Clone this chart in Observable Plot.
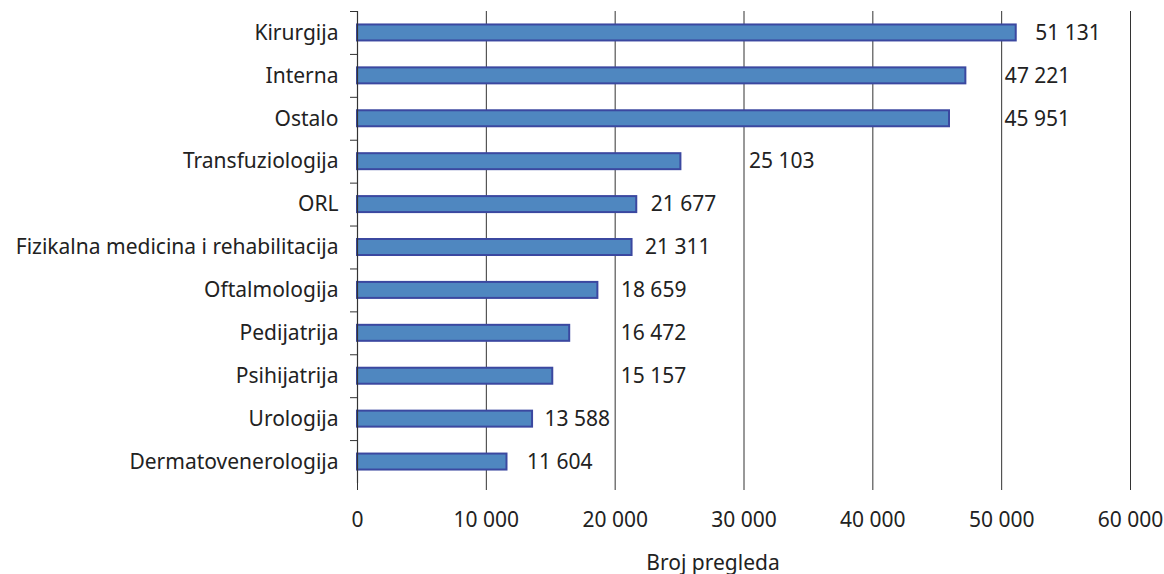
<!DOCTYPE html>
<html>
<head>
<meta charset="utf-8">
<script src="https://cdn.jsdelivr.net/npm/d3@7"></script>
<script src="https://cdn.jsdelivr.net/npm/@observablehq/plot@0.6"></script>
<style>
  html, body { margin: 0; padding: 0; background: #fff; }
  #chart svg { display: block; }
</style>
</head>
<body>
<div id="chart"></div>
<script>
const categories = ["Kirurgija", "Interna", "Ostalo", "Transfuziologija", "ORL",
  "Fizikalna medicina i rehabilitacija", "Oftalmologija", "Pedijatrija",
  "Psihijatrija", "Urologija", "Dermatovenerologija"];
const values = [51131, 47221, 45951, 25103, 21677, 21311, 18659, 16472, 15157, 13588, 11604];
const xTicks = [0, 10000, 20000, 30000, 40000, 50000, 60000];
const xTitle = "Broj pregleda";
// label offsets (px) from bar end, as placed in the original
const labelDx = [19, 39, 55, 68, 14, 13, 23, 51, 68, 12, 20];

const data = categories.map((c, i) => ({cat: c, value: values[i], dx: labelDx[i]}));
const fmt = d => d3.format(",")(d).replace(/,/g, "\u00a0");

const W = 1164, H = 574;
const mL = 357, mR = 34, mT = 11, mB = 91;
const step = (H - mT - mB) / categories.length;
const barH = 16;
const inset = (step - barH) / 2;
const FS = 21;

const chart = Plot.plot({
  width: W, height: H,
  marginLeft: mL, marginRight: mR, marginTop: mT, marginBottom: mB,
  style: {fontFamily: "'Noto Sans', Lato, sans-serif", fontSize: FS + "px", color: "#222", background: "#fff"},
  x: {domain: [0, 60000], ticks: xTicks, label: null},
  y: {domain: categories, padding: 0, round: false, label: null},
  marks: [
    Plot.ruleX(xTicks.filter(d => d > 0), {stroke: "#333", strokeWidth: 1, strokeOpacity: 1}),
    Plot.barX(data, {y: "cat", x: "value", insetTop: inset, insetBottom: inset, fill: "#4f87c0", stroke: "#3b48a0", strokeWidth: 2}),
    ...data.map(d => Plot.text([d], {y: "cat", x: "value", text: r => fmt(r.value), textAnchor: "start", dx: d.dx, fill: "#222", fontSize: FS})),
    Plot.axisX({ticks: xTicks, tickFormat: fmt, tickSize: 7, tickPadding: 22, fontSize: FS, stroke: "#333", label: null}),
    Plot.axisY({tickSize: 0, tickPadding: 19, fontSize: FS, label: null}),
    Plot.ruleY(categories, {y: d => d, dy: -step / 2, x1: 0, x2: 0, insetLeft: -7, stroke: "#333"}),
    Plot.ruleX([0], {stroke: "#333", strokeWidth: 1.2}),
    Plot.ruleY([0], {frameAnchor: "bottom", x1: 0, x2: 60000, insetLeft: -7, stroke: "#333"}),
    Plot.text([xTitle], {frameAnchor: "bottom", dy: 86, dx: -31, fontSize: FS, fill: "#222"})
  ]
});
document.getElementById("chart").appendChild(chart);
</script>
</body>
</html>
